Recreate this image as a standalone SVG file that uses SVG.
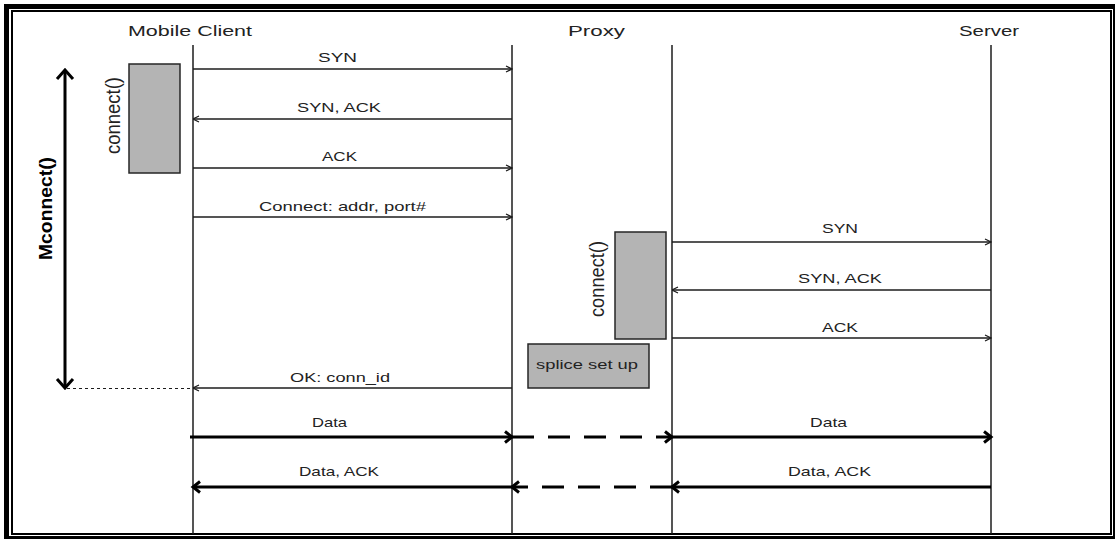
<svg xmlns="http://www.w3.org/2000/svg" width="1115" height="539" viewBox="0 0 1115 539">
  <style>
    .frame-outer { fill: none; stroke: #000; stroke-width: 5; }
    .frame-inner { fill: none; stroke: #000; stroke-width: 2; }
    .lifeline { stroke: #1c1c1c; stroke-width: 1.5; fill: none; }
    .msg { stroke: #1c1c1c; stroke-width: 1.3; fill: none; marker-end: url(#thinHead); }
    .data { stroke: #000; stroke-width: 3; fill: none; marker-end: url(#thickHead); }
    .data-dash { stroke: #000; stroke-width: 3; fill: none; stroke-dasharray: 22 14; marker-end: url(#thickHead); }
    .box { fill: #b4b4b4; stroke: #262626; stroke-width: 1.5; }
    .hdr { font-family: "Liberation Sans", Arial, sans-serif; font-size: 15px; fill: #222; text-anchor: middle; }
    .lbl { font-family: "Liberation Sans", Arial, sans-serif; font-size: 13px; fill: #222; text-anchor: middle; }
    .vlbl { font-family: "Liberation Sans", Arial, sans-serif; font-size: 21px; fill: #222; text-anchor: middle; }
    .vbold { font-family: "Liberation Sans", Arial, sans-serif; font-size: 19px; font-weight: bold; fill: #000; text-anchor: middle; }
  </style>
  <defs>
    <marker id="thinHead" markerUnits="userSpaceOnUse" viewBox="0 0 8 8" markerWidth="8" markerHeight="8" refX="7.5" refY="4" orient="auto">
      <path d="M1.5,1 L7.5,4 L1.5,7" fill="none" stroke="#1c1c1c" stroke-width="1.2"/>
    </marker>
    <marker id="thickHead" markerUnits="userSpaceOnUse" viewBox="0 0 14 14" markerWidth="14" markerHeight="14" refX="11" refY="7" orient="auto">
      <path d="M4,1.5 L11,7 L4,12.5" fill="none" stroke="#000" stroke-width="3"/>
    </marker>
    <marker id="spanHead" markerUnits="userSpaceOnUse" viewBox="0 0 20 20" markerWidth="20" markerHeight="20" refX="18" refY="10" orient="auto-start-reverse">
      <path d="M9,2 L18,10 L9,18" fill="none" stroke="#000" stroke-width="3"/>
    </marker>
  </defs>

  <rect width="1115" height="539" fill="#fff"/>

  <!-- double frame -->
  <rect class="frame-outer" x="6.5" y="6.5" width="1109" height="532"/>
  <rect class="frame-inner" x="12" y="11" width="1099" height="523"/>

  <!-- participants -->
  <g id="mobile-client">
    <text class="hdr" x="190" y="36" textLength="124" lengthAdjust="spacingAndGlyphs">Mobile Client</text>
    <line class="lifeline" x1="193" y1="45" x2="193" y2="534"/>
  </g>
  <g id="proxy">
    <text class="hdr" x="596.5" y="36" textLength="57" lengthAdjust="spacingAndGlyphs">Proxy</text>
    <line class="lifeline" x1="512" y1="45" x2="512" y2="534"/>
    <line class="lifeline" x1="672" y1="45" x2="672" y2="534"/>
  </g>
  <g id="server">
    <text class="hdr" x="989" y="36" textLength="60" lengthAdjust="spacingAndGlyphs">Server</text>
    <line class="lifeline" x1="991" y1="45" x2="991" y2="534"/>
  </g>

  <!-- activations -->
  <g id="client-connect">
    <rect class="box" x="129" y="64" width="51" height="109"/>
    <text class="vlbl" transform="translate(120 115.5) rotate(-90)" x="0" y="0" textLength="77" lengthAdjust="spacingAndGlyphs">connect()</text>
  </g>
  <g id="proxy-connect">
    <rect class="box" x="615" y="232" width="51" height="107"/>
    <text class="vlbl" transform="translate(604 279) rotate(-90)" x="0" y="0" textLength="76" lengthAdjust="spacingAndGlyphs">connect()</text>
  </g>
  <g id="splice-setup">
    <rect class="box" x="528" y="344" width="121" height="44"/>
    <text class="lbl" x="587" y="369" font-size="14" textLength="102" lengthAdjust="spacingAndGlyphs">splice set up</text>
  </g>
  <g id="mconnect-span">
    <line x1="65" y1="70" x2="65" y2="388" stroke="#000" stroke-width="3" marker-start="url(#spanHead)" marker-end="url(#spanHead)"/>
    <text class="vbold" transform="translate(52 208.5) rotate(-90)" x="0" y="0" textLength="103" lengthAdjust="spacingAndGlyphs">Mconnect()</text>
    <line x1="67" y1="388.5" x2="193" y2="388.5" stroke="#1c1c1c" stroke-width="1.2" stroke-dasharray="3 3"/>
  </g>

  <!-- messages -->
  <g id="connectors">
    <line class="msg" x1="193" y1="69" x2="512" y2="69"/>
    <text class="lbl" x="337.5" y="62" textLength="39" lengthAdjust="spacingAndGlyphs">SYN</text>

    <line class="msg" x1="512" y1="119" x2="193" y2="119"/>
    <text class="lbl" x="339" y="112" textLength="84" lengthAdjust="spacingAndGlyphs">SYN, ACK</text>

    <line class="msg" x1="193" y1="168" x2="512" y2="168"/>
    <text class="lbl" x="339.5" y="161" textLength="35" lengthAdjust="spacingAndGlyphs">ACK</text>

    <line class="msg" x1="193" y1="217" x2="512" y2="217"/>
    <text class="lbl" x="342.5" y="211" textLength="167" lengthAdjust="spacingAndGlyphs">Connect: addr, port#</text>

    <line class="msg" x1="672" y1="242" x2="991" y2="242"/>
    <text class="lbl" x="840" y="233" textLength="36" lengthAdjust="spacingAndGlyphs">SYN</text>

    <line class="msg" x1="991" y1="290" x2="672" y2="290"/>
    <text class="lbl" x="840" y="282.5" textLength="84" lengthAdjust="spacingAndGlyphs">SYN, ACK</text>

    <line class="msg" x1="672" y1="338" x2="991" y2="338"/>
    <text class="lbl" x="840" y="331.5" textLength="36" lengthAdjust="spacingAndGlyphs">ACK</text>

    <line class="msg" x1="512" y1="388" x2="193" y2="388"/>
    <text class="lbl" x="340" y="382" textLength="100" lengthAdjust="spacingAndGlyphs">OK: conn_id</text>

    <line class="data" x1="190" y1="437" x2="512" y2="437"/>
    <line class="data-dash" x1="512" y1="437" x2="672" y2="437"/>
    <line class="data" x1="672" y1="437" x2="991" y2="437"/>
    <text class="lbl" x="329.5" y="427" textLength="35" lengthAdjust="spacingAndGlyphs">Data</text>
    <text class="lbl" x="828.5" y="427" textLength="37" lengthAdjust="spacingAndGlyphs">Data</text>

    <line class="data" x1="991" y1="487" x2="672" y2="487"/>
    <line class="data-dash" x1="672" y1="487" x2="512" y2="487"/>
    <line class="data" x1="512" y1="487" x2="193" y2="487"/>
    <text class="lbl" x="339" y="476" textLength="80" lengthAdjust="spacingAndGlyphs">Data, ACK</text>
    <text class="lbl" x="829.5" y="476" textLength="83" lengthAdjust="spacingAndGlyphs">Data, ACK</text>
  </g>
</svg>
